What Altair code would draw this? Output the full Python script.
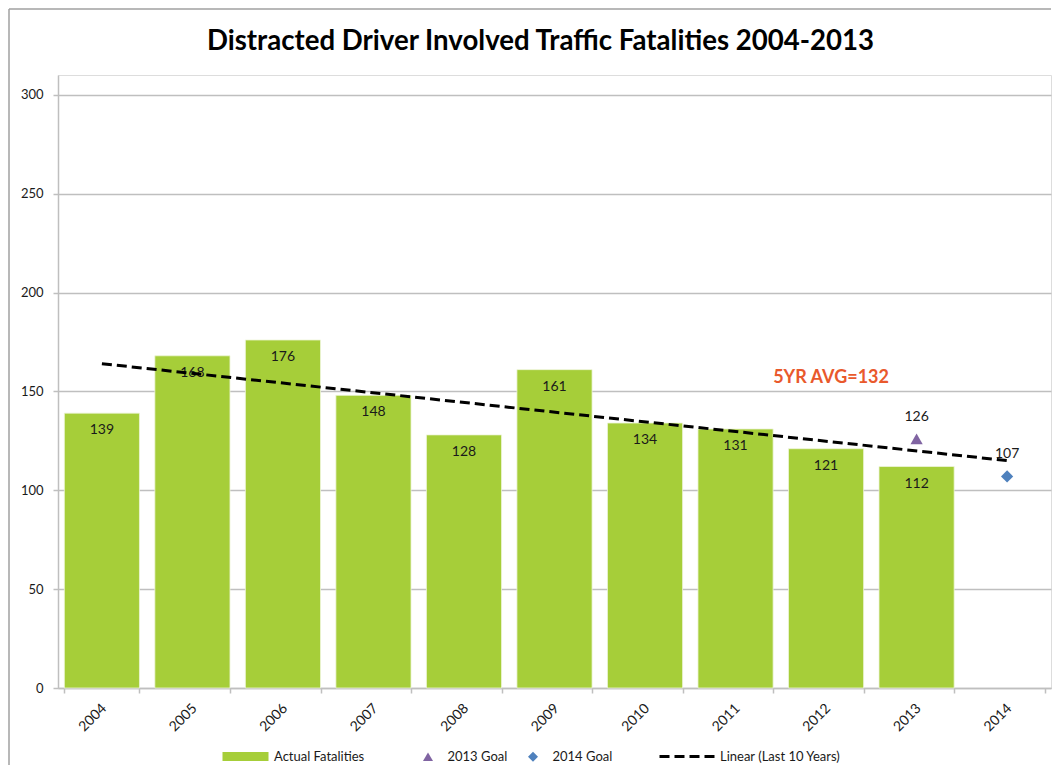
import altair as alt
import pandas as pd

# ---------------- data ----------------
years = ["2004", "2005", "2006", "2007", "2008", "2009", "2010", "2011", "2012", "2013"]
all_years = years + ["2014"]
fatalities = [139, 168, 176, 148, 128, 161, 134, 131, 121, 112]
bar_series = ["Actual Fatalities"] * len(years)

goal_years = ["2013", "2014"]
goal_values = [126, 107]
goal_names = ["2013 Goal", "2014 Goal"]

trend_years = ["2004", "2014"]
trend_values = [164, 115]
trend_names = ["Linear (Last 10 Years)"] * 2

avg_text = ["5YR AVG=132"]
avg_year = ["2012"]
avg_value = [157]

y_ticks = [0, 50, 100, 150, 200, 250, 300]

TITLE = "Distracted Driver Involved Traffic Fatalities 2004-2013"

# ---------------- layout / style ----------------
W, H = 993, 613
FONT = "Lato"
GRID = "#BFBFBF"
GREEN = "#A6CE39"
PURPLE = "#8064A2"
BLUE = "#4F81BD"
ORANGE = "#E9592C"
TXT = "#1a1a1a"

bar_df = pd.DataFrame({"year": years, "value": fatalities, "series": bar_series})
goal_df = pd.DataFrame({"year": goal_years, "value": goal_values, "goal": goal_names})
trend_df = pd.DataFrame({"year": trend_years, "value": trend_values, "trend": trend_names})
avg_df = pd.DataFrame({"year": avg_year, "value": avg_value, "label": avg_text})
one = pd.DataFrame({"a": [0]})

xscale = alt.Scale(domain=all_years, paddingInner=0.17, paddingOuter=0.07)
yscale = alt.Scale(domain=[0, 310], nice=False)

x_axis = alt.Axis(
    title=None, labelAngle=-45, tickBand="extent", domainColor=GRID, domainWidth=1.5,
    tickColor=GRID, tickWidth=1.5, tickSize=5, labelFont=FONT, labelFontSize=14,
    labelColor=TXT, labelPadding=8, labelOffset=-3, grid=False,
)
y_axis = alt.Axis(
    title=None, values=y_ticks, grid=True, gridColor=GRID, gridWidth=1.5,
    domainColor=GRID, domainWidth=1.5, tickColor=GRID, tickWidth=1.5, tickSize=5,
    labelPadding=10, labelFont=FONT, labelFontSize=13, labelColor=TXT,
)

X = alt.X("year:N", scale=xscale, axis=x_axis, sort=all_years)
Xc = alt.X("year:N", scale=xscale, axis=x_axis, sort=all_years, bandPosition=0.5)
Y = alt.Y("value:Q", scale=yscale, axis=y_axis)

LEG_Y = 675
common_leg = dict(orient="none", title=None, labelFont=FONT, labelFontSize=13,
                  labelColor=TXT, legendY=LEG_Y, symbolOpacity=1)

bar_legend = alt.Legend(
    legendX=181, symbolType="M-4.6,-0.9L4.6,-0.9L4.6,0.9L-4.6,0.9Z",
    symbolSize=100, labelOffset=22, symbolStrokeWidth=0, **common_leg)
goal_legend = alt.Legend(
    legendX=363.5, direction="horizontal", symbolSize=100, labelOffset=13,
    columnPadding=19, symbolStrokeWidth=0, **common_leg)
trend_legend = alt.Legend(
    legendX=625, symbolType="M-6,0L6,0", symbolSize=100, labelOffset=24,
    symbolStrokeColor="black", symbolStrokeWidth=3, **common_leg)

bars = alt.Chart(bar_df).mark_bar(stroke="#EEF5D8", strokeWidth=0.8).encode(
    x=X, y=Y,
    color=alt.Color("series:N", scale=alt.Scale(domain=["Actual Fatalities"], range=[GREEN]),
                    legend=bar_legend),
)
bar_labels = alt.Chart(bar_df).mark_text(
    dy=17, font=FONT, fontSize=14, color=TXT, baseline="middle"
).encode(x=Xc, y=Y, text="value:Q")

trend = alt.Chart(trend_df).mark_line(color="black", strokeWidth=3).encode(
    x=Xc, y=Y,
    strokeDash=alt.StrokeDash("trend:N", scale=alt.Scale(domain=["Linear (Last 10 Years)"], range=[[10, 5]]),
                              legend=trend_legend),
)

goals = alt.Chart(goal_df).mark_point(filled=True, size=150, opacity=1).encode(
    x=Xc, y=Y,
    shape=alt.Shape("goal:N", scale=alt.Scale(domain=goal_names, range=["triangle-up", "diamond"]),
                    legend=goal_legend),
    fill=alt.Fill("goal:N", scale=alt.Scale(domain=goal_names, range=[PURPLE, BLUE]),
                  legend=goal_legend),
)
goal_labels = alt.Chart(goal_df).mark_text(
    dy=-22, font=FONT, fontSize=14, color=TXT, baseline="middle"
).encode(x=Xc, y=Y, text="value:Q")

avg = alt.Chart(avg_df).mark_text(
    dx=5, font=FONT, fontSize=18, fontWeight="bold", color=ORANGE, baseline="middle"
).encode(x=Xc, y=Y, text="label:N")

border_top = alt.Chart(one).mark_rule(color="#A0A0A0", strokeWidth=1.5).encode(
    x=alt.value(-49), x2=alt.value(W), y=alt.value(-66))
border_left = alt.Chart(one).mark_rule(color="#A0A0A0", strokeWidth=1.5).encode(
    x=alt.value(-49), y=alt.value(-66), y2=alt.value(690))

chart = alt.layer(
    border_top, border_left, bars, bar_labels, trend, goals, goal_labels, avg
).resolve_legend(
    color="independent", shape="independent", fill="independent", strokeDash="independent"
).properties(
    width=W, height=H,
    padding={"left": 0, "top": 0, "right": 0, "bottom": 0},
    title=alt.Title(TITLE, font=FONT, fontSize=27.6, fontWeight="bold", color="#000000",
                    anchor="middle", frame="group", dx=-14, offset=-69, baseline="alphabetic"),
).configure_view(stroke=None).configure(background="white")

chart.save("out.html", embed_options={"renderer": "svg", "actions": False})
